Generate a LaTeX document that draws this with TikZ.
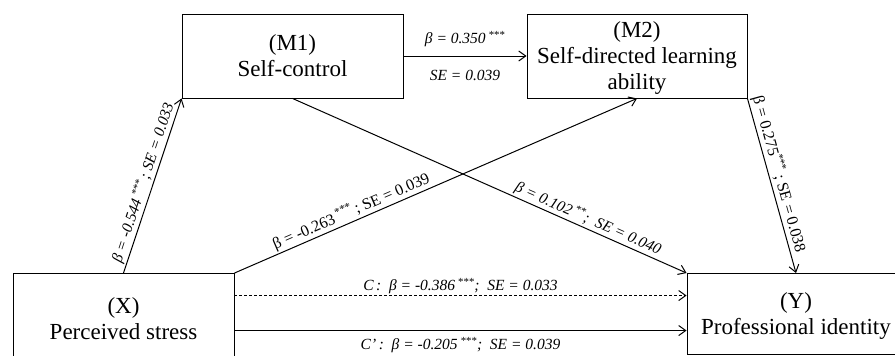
\documentclass[tikz,border=0pt]{standalone}
\usepackage{fontspec}
\setmainfont{Liberation Serif}
\usetikzlibrary{arrows.meta}
\begin{document}
\begin{tikzpicture}[x=1pt,y=-1pt,
  box/.style={draw, line width=0.9pt, align=center, inner sep=0pt,
    font=\fontsize{23}{26}\selectfont},
  link/.style={line width=1pt, -{Straight Barb[length=7pt,width=10pt]}},
  est/.style={font=\fontsize{15.5}{18}\selectfont\itshape, inner sep=2pt},
  estup/.style={font=\fontsize{16}{18}\selectfont, inner sep=2pt}]
\useasboundingbox (0,0) rectangle (895,356);
\clip (0,0) rectangle (895,356);

% variables
\node[box, minimum width=221pt, minimum height=84pt] (M1) at (292.5,56) {(M1)\\Self-control};
\node[box, minimum width=220pt, minimum height=84pt, text depth=0pt] (M2) at (637,56) {(M2)\\Self-directed learning\\ability};
\node[box, minimum width=221pt, minimum height=91pt] (X) at (123.5,319) {(X)\\Perceived stress};
\node[box, minimum width=218pt, minimum height=81pt, text depth=0pt] (Y) at (796,314) {(Y)\\Professional identity};

% paths
\draw[link] (M1.east) --
  node[est, above=6.5pt] {β = 0.350\,\textsuperscript{***}}
  node[est, below=11.5pt] {SE = 0.039} (M2.west);
\draw[link] (X.north) --
  node[est, sloped, above, inner sep=1.5pt] {β = -0.544\,\textsuperscript{***}\,;\ SE = 0.033} (M1.south west);
\draw[link] (X.north east) --
  node[estup, sloped, above, pos=0.3, inner sep=1.5pt] {β = -0.263\,\textsuperscript{***}\,;\ SE = 0.039} (M2.south);
\draw[link] (M1.south) --
  node[est, sloped, above, pos=0.74, inner sep=1.5pt] {β = 0.102\,\textsuperscript{**};\ \ SE = 0.040} (Y.north west);
\draw[link] (M2.south east) --
  node[estup, sloped, above, pos=0.45, inner sep=1.5pt] {β = 0.275\textsuperscript{***}\,;\ SE = 0.038} (Y.north);
\draw[link, dashed, dash pattern=on 3pt off 2pt] ([yshift=-22.5pt]X.north east) --
  node[est, above, inner sep=1pt] {C\,:\ \ β = -0.386\,\textsuperscript{***};\ \ SE = 0.033} ([yshift=-22.5pt]Y.north west);
\draw[link] ([yshift=-57.5pt]X.north east) --
  node[est, below=4.5pt] {C'\,:\ \ β = -0.205\,\textsuperscript{***};\ \ SE = 0.039} ([yshift=-57.5pt]Y.north west);
\end{tikzpicture}
\end{document}
